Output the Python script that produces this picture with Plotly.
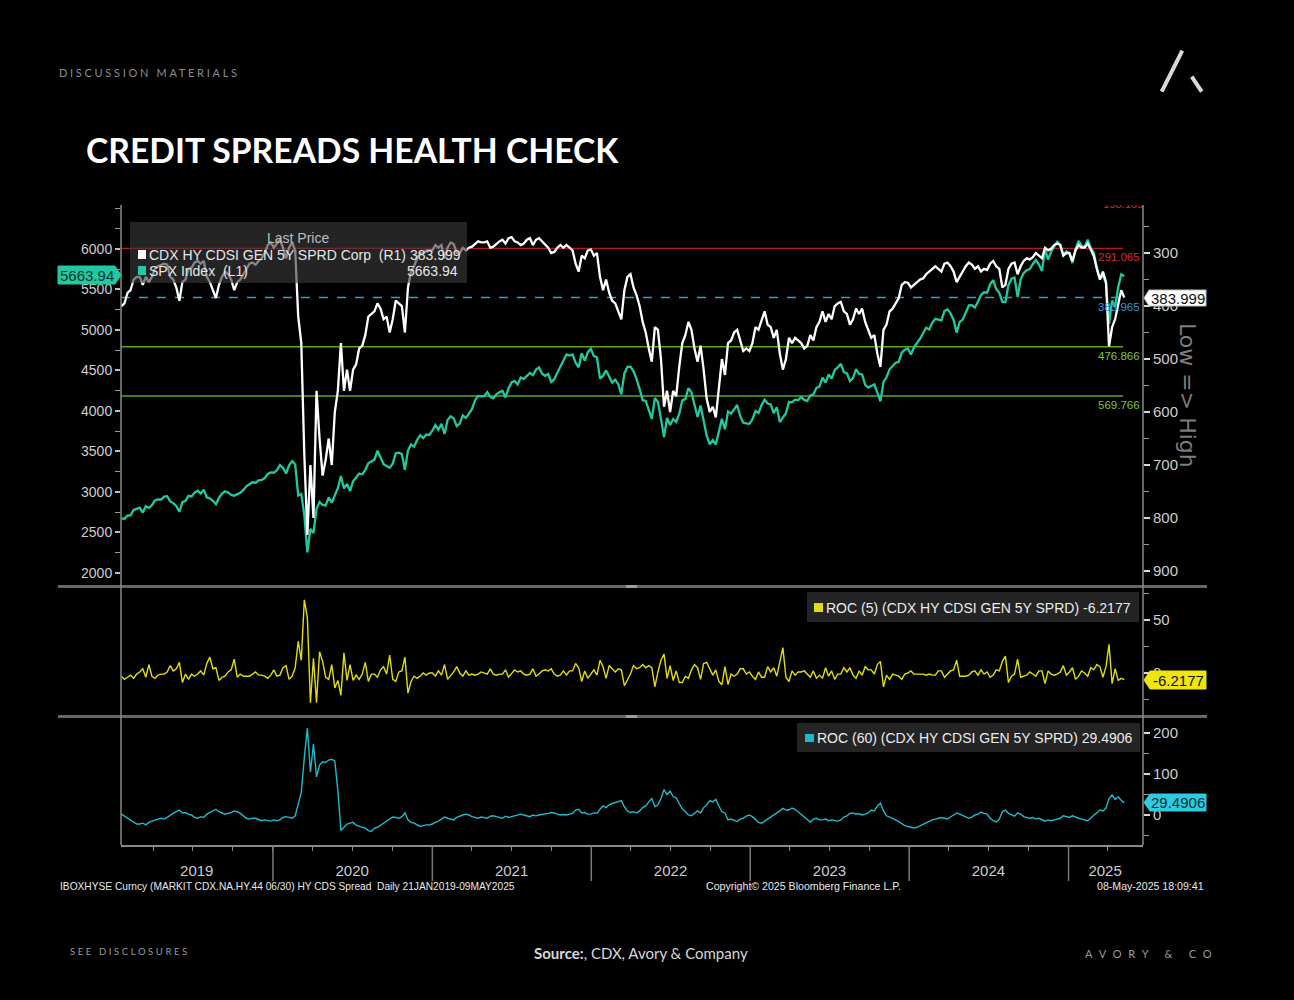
import pandas as pd
import plotly.graph_objects as go

W, H = 1294, 1000

# ---------------- data (weekly Friday readings) ----------------
week_start, week_end = "2019-01-18", "2025-05-09"

spx_2019 = [2671, 2665, 2707, 2708, 2776, 2793, 2804, 2743, 2822, 2801, 2834, 2893, 2907, 2905, 2940,
            2946, 2881, 2860, 2826, 2752, 2873, 2887, 2950, 2942, 2990, 3014, 2977, 3026, 2932, 2918,
            2889, 2847, 2926, 2979, 3007, 2992, 2962, 2952, 2970, 2986, 3023, 3067, 3093, 3120, 3110,
            3141, 3146, 3169, 3221, 3240]
spx_2020 = [3235, 3265, 3330, 3295, 3226, 3328, 3380, 3338, 2954, 2972, 2711, 2250, 2541, 2489, 2790,
            2875, 2837, 2831, 2930, 2864, 2955, 3044, 3194, 3041, 3097, 3009, 3130, 3185, 3225, 3216,
            3271, 3351, 3373, 3397, 3508, 3427, 3341, 3319, 3298, 3348, 3477, 3483, 3465, 3270, 3509,
            3585, 3558, 3638, 3699, 3663, 3709, 3703]
spx_2021 = [3756, 3825, 3768, 3841, 3714, 3887, 3934, 3907, 3811, 3842, 3943, 3913, 3975, 4020, 4129,
            4185, 4180, 4181, 4233, 4174, 4156, 4204, 4230, 4247, 4166, 4281, 4352, 4370, 4327, 4412,
            4395, 4437, 4468, 4442, 4509, 4535, 4459, 4433, 4455, 4357, 4391, 4471, 4545, 4605, 4697,
            4683, 4698, 4595, 4538, 4712, 4621, 4726, 4766]
spx_2022 = [4677, 4662, 4398, 4432, 4500, 4419, 4349, 4385, 4329, 4204, 4463, 4543, 4546, 4488, 4393,
            4272, 4132, 4123, 4024, 3901, 4158, 4109, 3901, 3675, 3912, 3825, 3899, 3863, 3962, 4130,
            4145, 4280, 4228, 4058, 3924, 4067, 3873, 3693, 3586, 3640, 3583, 3752, 3901, 3771, 3993,
            3965, 4026, 4072, 3934, 3852, 3845, 3840]
spx_2023 = [3895, 3999, 3973, 4071, 4136, 4090, 4079, 3970, 4046, 3862, 3917, 3971, 4109, 4105, 4138,
            4133, 4169, 4136, 4124, 4192, 4205, 4282, 4299, 4410, 4348, 4450, 4399, 4505, 4536, 4582,
            4478, 4464, 4370, 4406, 4516, 4457, 4450, 4320, 4288, 4308, 4328, 4224, 4117, 4358, 4415,
            4514, 4559, 4595, 4604, 4719, 4755, 4770]
spx_2024 = [4697, 4784, 4840, 4891, 4959, 5027, 5006, 5089, 5137, 5124, 5117, 5234, 5254, 5204, 5123,
            4967, 5100, 5128, 5223, 5303, 5305, 5278, 5347, 5432, 5465, 5460, 5567, 5615, 5505, 5459,
            5346, 5344, 5554, 5634, 5648, 5408, 5626, 5703, 5738, 5751, 5815, 5865, 5808, 5729, 5996,
            5870, 5969, 6032, 6090, 6051, 5931, 5971]
spx_2025 = [5942, 5827, 5997, 6101, 6041, 6026, 6115, 6013, 5955, 5770, 5639, 5668, 5581, 5074, 5363,
            5283, 5525, 5687, 5663.94]

cdx_2019 = [400, 395, 375, 370, 350, 345, 345, 360, 345, 355, 345, 330, 325, 322, 320, 322, 345, 350,
            365, 390, 355, 350, 330, 328, 318, 315, 320, 315, 345, 355, 370, 385, 360, 345, 335, 340,
            350, 370, 355, 350, 340, 330, 320, 318, 322, 315, 310, 300, 285, 280]
cdx_2020 = [290, 282, 275, 290, 310, 290, 280, 295, 420, 470, 680, 832, 700, 800, 560, 650, 720, 690,
            650, 700, 600, 560, 470, 560, 520, 560, 520, 510, 480, 475, 455, 420, 415, 410, 395, 405,
            425, 420, 450, 425, 390, 395, 400, 450, 365, 335, 325, 310, 300, 300, 295, 295]
cdx_2021 = [295, 285, 290, 285, 310, 290, 280, 283, 300, 300, 290, 295, 290, 288, 282, 278, 280, 280,
            278, 290, 288, 282, 278, 275, 282, 272, 270, 278, 280, 285, 282, 275, 272, 285, 275, 272,
            278, 285, 290, 300, 298, 290, 285, 290, 285, 290, 295, 320, 335, 305, 310, 295, 293]
cdx_2022 = [305, 300, 345, 370, 350, 375, 390, 395, 410, 425, 370, 345, 340, 365, 380, 400, 430, 450,
            480, 505, 440, 445, 500, 590, 560, 600, 560, 570, 515, 470, 455, 430, 445, 480, 505, 475,
            520, 575, 600, 590, 610, 560, 500, 530, 470, 465, 450, 445, 465, 485, 480, 485]
cdx_2023 = [470, 440, 445, 425, 410, 435, 440, 460, 445, 490, 520, 500, 460, 470, 460, 465, 470, 480,
            475, 455, 465, 440, 430, 410, 430, 415, 425, 400, 395, 392, 410, 415, 435, 425, 405, 415,
            405, 430, 445, 460, 455, 490, 515, 445, 435, 410, 405, 395, 385, 360, 355, 356]
cdx_2024 = [365, 360, 355, 350, 348, 340, 335, 330, 325, 330, 335, 320, 318, 325, 335, 355, 345, 335,
            325, 318, 322, 330, 325, 335, 330, 332, 320, 315, 325, 330, 365, 360, 330, 320, 318, 340,
            325, 315, 310, 312, 308, 300, 305, 310, 290, 295, 292, 285, 282, 285, 305, 300]
cdx_2025 = [300, 315, 295, 285, 290, 290, 282, 295, 305, 330, 350, 335, 355, 476, 440, 425, 395, 370,
            383.999]

roc5_2019 = [-3, -6, -4, -2, -5, -1, 1, 4, -4, 8, -3, -5, -2, -1, -1, 1, 7, 2, 4, 10, -9, -1, -6, -1,
             -3, -1, 2, -2, 9, 15, 4, 5, -7, -4, -3, 1, 3, 13, -4, -1, -3, -3, -3, -1, 1, -2, -2, -3,
             -5, -2]
roc5_2020 = [3, -3, -2, 5, 7, -6, -3, 5, 30, 12, 69, 52, -28, 14, -28, 20, 11, -4, -6, 8, -14, -7,
             -21, 19, -7, 8, -7, -2, -6, -1, 10, -8, -1, -1, -4, 3, 6, -1, 17, -6, -8, 1, 2, 15, -19,
             -8, -3, -5, -3, 0, -2, 0]
roc5_2021 = [0, -3, 2, -2, 8, -6, -3, 1, 6, 0, -3, 2, -2, -1, -2, -1, 1, 0, -1, 4, -1, -2, -1, -1, 3,
             -4, -1, 3, 1, 2, -1, -2, -1, 4, -3, -1, 2, 3, 2, 4, -1, -3, -2, 2, -2, 2, 2, 9, 5, -8, 2,
             -5, -1]
roc5_2022 = [3, -2, 12, 6, -5, 7, 4, 1, 4, 3, -12, -7, -1, 7, 4, 5, 8, 5, 7, 5, -13, 1, 12, 18, -5, 7,
             -7, 2, -9, -9, -3, -5, 3, 8, 5, -6, 9, 10, 4, -2, 3, -8, -11, 6, -11, -1, -3, -1, 4, 4,
             -1, 1]
roc5_2023 = [-3, -6, 1, -4, -4, 6, 1, 5, -3, 10, 24, -4, -8, 2, -2, 1, 1, 2, -1, -4, 2, -5, -2, -5, 5,
             -3, 2, -6, -1, -1, 5, 1, 5, -2, -5, 2, -2, 6, 3, 3, -1, 8, 11, -13, -2, -6, -1, -2, -3,
             -6, -1, 0]
roc5_2024 = [2, -1, -1, -1, -1, -2, -1, -2, -2, 2, 2, -4, -1, 2, 3, 12, -3, -3, -3, -2, 1, 2, -2, 3,
             -1, 1, -4, -2, 3, 2, 11, 16, -9, -3, -1, 13, -4, -3, -2, 1, -1, -3, 2, 2, -10, 2, -1, -2,
             -1, 1, 7, -2]
roc5_2025 = [1, 5, -6, -3, 2, 0, -3, 5, 3, 8, 6, -4, 6, 27, -10, 4, -7, -5, -6.2177]

roc60_2019 = [2, -3, -8, -12, -18, -22, -22, -20, -24, -18, -15, -12, -10, -8, -10, -6, 0, 4, 8, 12,
              5, 6, 2, 0, -6, -8, -4, -6, 2, 6, 10, 14, 8, 4, 2, 4, 6, 10, 8, 4, -2, -8, -10, -8, -8,
              -12, -14, -12, -14, -15]
roc60_2020 = [-12, -14, -12, -6, -4, -6, -8, -2, 30, 55, 140, 212, 105, 173, 93, 122, 130, 128, 134,
              136, 132, 60, -38, -30, -22, -20, -18, -25, -28, -30, -32, -38, -40, -32, -30, -25,
              -20, -15, -8, -5, -6, -8, -4, 5, -12, -18, -20, -24, -28, -26, -24, -24]
roc60_2021 = [-22, -18, -15, -10, -5, -8, -10, -12, -6, -2, 0, 2, 0, -4, -6, -8, -5, -6, -8, -3, -2,
              -4, -6, -8, -3, -6, -4, -2, -1, 2, 0, -2, -4, 0, -2, 0, 1, 2, 4, 6, 5, 2, 0, 1, 0, 2,
              4, 12, 14, 5, 6, 2, 2]
roc60_2022 = [5, 4, 14, 22, 18, 25, 28, 30, 32, 35, 20, 10, 6, 8, 5, 10, 18, 22, 32, 40, 20, 25, 40,
              62, 50, 58, 45, 42, 28, 15, 8, 0, -2, 4, 10, 5, 18, 25, 35, 32, 38, 22, 8, 5, -12, -10,
              -14, -16, -10, -8, -3, 0]
roc60_2023 = [-4, -12, -18, -20, -15, -12, -6, 0, 4, 10, 16, 12, 12, 17, 14, 8, 2, -4, -12, -17, -10,
              -8, -12, -12, -10, -14, -12, -14, -15, -12, -5, -2, 4, 5, 2, 3, 0, 2, 5, 12, 10, 22,
              29, 10, -2, -5, -8, -12, -16, -22, -26, -28]
roc60_2024 = [-30, -32, -30, -26, -22, -20, -15, -12, -10, -8, -6, -8, -10, -5, 0, 5, 2, -2, -5, -8,
              -5, 0, 2, 7, 4, 2, -8, -14, -17, -10, 8, 12, 4, 0, -3, 5, 2, -4, -6, -8, -6, -10, -8,
              -12, -15, -12, -14, -12, -10, -8, -2, -4]
roc60_2025 = [-6, -2, -6, -8, -10, -12, -14, -8, 0, 5, 12, 10, 17, 40, 49, 38, 44, 36, 29.4906]

spx = spx_2019 + spx_2020 + spx_2021 + spx_2022 + spx_2023 + spx_2024 + spx_2025
cdx = cdx_2019 + cdx_2020 + cdx_2021 + cdx_2022 + cdx_2023 + cdx_2024 + cdx_2025
roc5 = roc5_2019 + roc5_2020 + roc5_2021 + roc5_2022 + roc5_2023 + roc5_2024 + roc5_2025
roc60 = roc60_2019 + roc60_2020 + roc60_2021 + roc60_2022 + roc60_2023 + roc60_2024 + roc60_2025

spx_last_label = "5663.94"
cdx_last_label = "383.999"
roc5_last_label = "-6.2177"
roc60_last_label = "29.4906"

band_levels = [291.065, 383.965, 476.866, 569.766]
band_labels = ["291.065", "383.965", "476.866", "569.766"]
top_level_value = 210.5
top_level_label = "198.165"

spx_ticks = [2000, 2500, 3000, 3500, 4000, 4500, 5000, 5500, 6000]
cdx_ticks = [300, 400, 500, 600, 700, 800, 900]
roc5_ticks = [50, 0]
roc60_ticks = [200, 100, 0]
year_labels = ["2019", "2020", "2021", "2022", "2023", "2024", "2025"]
year_label_dates = ["2019-07-10", "2020-07-01", "2021-07-02", "2022-07-02", "2023-07-02",
                    "2024-07-01", "2025-03-26"]
year_starts = ["2020-01-01", "2021-01-01", "2022-01-01", "2023-01-01", "2024-01-01", "2025-01-01"]

# ---------------- figure ----------------
dates = pd.date_range(week_start, week_end, freq="W-FRI")
for s in (spx, cdx, roc5, roc60):
    assert len(s) == len(dates), (len(s), len(dates))

quarter_ticks = pd.date_range("2019-04-01", "2025-04-01", freq="QS").strftime("%Y-%m-%d").tolist()

X_RANGE = ["2019-01-17", "2025-06-21"]
BB = "Liberation Sans, Arial, sans-serif"
LATO = "Lato, Open Sans, sans-serif"
TEAL = "#1fc9a1"
YELLOW = "#e2dc0c"
CYAN = "#1fb9c9"
GRAY = "#8a8a8a"
LBL = "#cdcdcd"


def px(x):
    return x / W


def py(y):
    return 1 - y / H


XD = [px(121), px(1143)]

fig = go.Figure()
fig.add_trace(go.Scatter(x=dates, y=spx, xaxis="x", yaxis="y", mode="lines",
                         line=dict(color=TEAL, width=2.3), hoverinfo="skip"))
fig.add_trace(go.Scatter(x=dates, y=cdx, xaxis="x", yaxis="y2", mode="lines",
                         line=dict(color="#ffffff", width=2.3), hoverinfo="skip"))
fig.add_trace(go.Scatter(x=[X_RANGE[1]], y=[top_level_value], xaxis="x", yaxis="y2", mode="text",
                         text=[top_level_label], textposition="middle left", cliponaxis=True,
                         textfont=dict(family=BB, size=11, color="#d42a2a"), hoverinfo="skip"))
fig.add_trace(go.Scatter(x=dates, y=roc5, xaxis="x2", yaxis="y3", mode="lines",
                         line=dict(color=YELLOW, width=1.4), hoverinfo="skip"))
fig.add_trace(go.Scatter(x=dates, y=roc60, xaxis="x3", yaxis="y4", mode="lines",
                         line=dict(color=CYAN, width=1.4), hoverinfo="skip"))

tickfont_l = dict(family=BB, size=14, color=LBL)
tickfont_r = dict(family=BB, size=15, color=LBL)


def yax(**kw):
    base = dict(showgrid=False, zeroline=False, showline=False, ticks="outside", ticklen=6,
                tickwidth=2, tickcolor="#d8d8d8", fixedrange=True)
    base.update(kw)
    return base


shapes = []


def line(x0, y0, x1, y1, color, width, dash=None, layer="above", xref="paper", yref="paper"):
    d = dict(type="line", x0=x0, y0=y0, x1=x1, y1=y1, xref=xref, yref=yref, layer=layer,
             line=dict(color=color, width=width))
    if dash:
        d["line"]["dash"] = dash
    shapes.append(d)


def rect(x0, y0, x1, y1, fill, layer="above"):
    shapes.append(dict(type="rect", x0=px(x0), y0=py(y1), x1=px(x1), y1=py(y0), xref="paper",
                       yref="paper", fillcolor=fill, line=dict(width=0), layer=layer))


def poly(points, fill, border=None):
    path = "M " + " L ".join(f"{px(x):.5f},{py(y):.5f}" for x, y in points) + " Z"
    shapes.append(dict(type="path", path=path, xref="paper", yref="paper", fillcolor=fill,
                       line=dict(color=border or fill, width=1), layer="above"))


# band lines (right axis values)
band_colors = ["#b81818", "#2a9ed8", "#5aa81e", "#5aa81e"]
band_text_colors = ["#d42a2a", "#2b9cd8", "#7cc63a", "#7cc63a"]
for lv, col in zip(band_levels, band_colors):
    line(px(121), lv, px(1123), lv, col, 1.3 if col != "#2a9ed8" else 1.5,
         dash="dash" if col == "#2a9ed8" else None, layer="below", yref="y2")

# panel separators and frame
for yy in (586.5, 716.5):
    line(px(58), py(yy), px(1207), py(yy), "#676767", 3)
    line(px(626), py(yy), px(637), py(yy), "#9d9d9d", 3)
line(px(121), py(205), px(121), py(845), GRAY, 1.5)
line(px(1143), py(205), px(1143), py(845), GRAY, 1.5)
for ys in year_starts:
    line(ys, py(846), ys, py(881), "#7a7a7a", 1.5, xref="x3")

# legend boxes
rect(130, 222, 467, 283, "rgba(58,58,58,0.62)")
rect(138, 250, 146, 259, "#ffffff")
rect(138, 266, 146, 275, TEAL)
rect(807, 592, 1139, 622, "rgba(58,58,58,0.62)")
rect(814, 603, 823, 612, YELLOW)
rect(797, 723, 1140, 752, "rgba(58,58,58,0.62)")
rect(805, 734, 814, 742, CYAN)

# last-value tags
poly([(1144, 298), (1149, 290), (1206, 290), (1206, 306), (1149, 306)], "#ffffff", "#bbbbbb")
poly([(121, 275), (115, 266), (58, 266), (58, 284), (115, 284)], TEAL)
poly([(1144, 680), (1150, 671), (1206, 671), (1206, 689), (1150, 689)], "#efe60f")
poly([(1144, 802.5), (1150, 794), (1206, 794), (1206, 811), (1150, 811)], "#2ccbe0")

# logo
line(px(1161.7), py(91.7), px(1182.3), py(50.7), "#d9d9d9", 4)
line(px(1191.7), py(76.7), px(1201.7), py(91.7), "#d9d9d9", 4)

annotations = []


def ann(text, x, y, size, color, family=BB, xanchor="left", yanchor="middle", **kw):
    annotations.append(dict(text=text, x=px(x), y=py(y), xref="paper", yref="paper",
                            showarrow=False, xanchor=xanchor, yanchor=yanchor,
                            font=dict(family=family, size=size, color=color), **kw))


ann('<span style="letter-spacing:2.7px">DISCUSSION MATERIALS</span>', 57, 73, 11, "#8c8c8c", LATO)
ann("<b>CREDIT SPREADS HEALTH CHECK</b>", 84, 150, 33.7, "#ffffff", LATO)
ann('<span style="letter-spacing:2.6px">SEE DISCLOSURES</span>', 68, 951, 9.5, "#9a9a9a", LATO)
ann('<b>Source:</b>, CDX, Avory & Company', 641, 953, 15, "#d8d8d8", LATO, xanchor="center")
ann('<span style="letter-spacing:6.8px">AVORY & CO</span>', 1083, 953, 11, "#9a9a9a", LATO)

ann("Last Price", 298, 238, 14, "#bdbdbd", xanchor="center")
ann("CDX HY CDSI GEN 5Y SPRD Corp  (R1) 383.999", 147, 255, 14, "#e6e6e6")
ann("SPX Index  (L1)", 147, 271, 14, "#e6e6e6")
ann(spx_last_label, 460, 271, 14, "#e6e6e6", xanchor="right")
ann("ROC (5) (CDX HY CDSI GEN 5Y SPRD) " + roc5_last_label, 824, 608, 14, "#ececec")
ann("ROC (60) (CDX HY CDSI GEN 5Y SPRD) " + roc60_last_label, 815, 738, 14, "#ececec")

ann(cdx_last_label, 1177.5, 298, 15, "#111111", xanchor="center")
ann(spx_last_label, 86.5, 275.5, 15, "#06352b", xanchor="center")
ann(roc5_last_label, 1178, 680, 15, "#111111", xanchor="center")
ann(roc60_last_label, 1178, 802.5, 15, "#0b2f35", xanchor="center")

for lv, lab, col in zip(band_levels, band_labels, band_text_colors):
    annotations.append(dict(text=lab, x=px(1142), y=lv, xref="paper", yref="y2", showarrow=False,
                            xanchor="right", yanchor="top", yshift=-1,
                            font=dict(family=BB, size=11.5, color=col)))

annotations.append(dict(text="Low => High", x=px(1188), y=py(395), xref="paper", yref="paper",
                        showarrow=False, textangle=90, xanchor="center", yanchor="middle",
                        font=dict(family="DejaVu Sans, sans-serif", size=22, color="#7d7d7d")))

ann("IBOXHYSE Curncy (MARKIT CDX.NA.HY.44 06/30) HY CDS Spread  Daily 21JAN2019-09MAY2025",
    58, 886, 10.2, "#e8e8e8")
ann("Copyright\u00a9 2025 Bloomberg Finance L.P.", 704, 886, 10.6, "#e8e8e8")
ann("08-May-2025 18:09:41", 1206, 886, 10.6, "#e8e8e8", xanchor="right")

fig.update_layout(
    width=W, height=H, margin=dict(l=0, r=0, t=0, b=0),
    paper_bgcolor="#000000", plot_bgcolor="#000000", showlegend=False,
    xaxis=dict(domain=XD, range=X_RANGE, anchor="y", showticklabels=False, showgrid=False,
               zeroline=False, showline=False, ticks=""),
    xaxis2=dict(domain=XD, range=X_RANGE, anchor="y3", matches="x", showticklabels=False,
                showgrid=False, zeroline=False, showline=False, ticks=""),
    xaxis3=dict(domain=XD, range=X_RANGE, anchor="y4", matches="x", showgrid=False, zeroline=False,
                showline=True, linecolor=GRAY, linewidth=1.5, tickvals=year_label_dates,
                ticktext=year_labels, ticks="", ticklabelstandoff=11,
                tickfont=dict(family=BB, size=15, color=LBL),
                minor=dict(tickvals=quarter_ticks, ticks="outside", ticklen=4, tickwidth=1.2,
                           tickcolor=GRAY, showgrid=False)),
    yaxis=yax(domain=[py(585), py(205)], range=[1848, 6544], side="left", anchor="x",
              tickvals=spx_ticks, tickfont=tickfont_l, ticklen=5, tickwidth=1.5, tickcolor="#bdbdbd",
              minor=dict(tickmode="linear", tick0=0, dtick=250, ticks="outside", ticklen=5,
                         tickwidth=1.2, tickcolor="#9a9a9a")),
    yaxis2=yax(overlaying="y", anchor="x", side="right", range=[926.4, 209.4],
               tickvals=cdx_ticks, tickfont=tickfont_r,
               minor=dict(tickmode="linear", tick0=0, dtick=50, ticks="outside", ticklen=5,
                          tickwidth=1.2, tickcolor="#9a9a9a")),
    yaxis3=yax(domain=[py(715), py(588)], anchor="x2", side="right", range=[-39.6, 80.2],
               tickvals=roc5_ticks, tickfont=tickfont_r,
               minor=dict(tickmode="linear", tick0=0, dtick=25, ticks="outside", ticklen=5,
                          tickwidth=1.2, tickcolor="#9a9a9a")),
    yaxis4=yax(domain=[py(845), py(718)], anchor="x3", side="right", range=[-73.2, 236.6],
               tickvals=roc60_ticks, tickfont=tickfont_r,
               minor=dict(tickmode="linear", tick0=0, dtick=50, ticks="outside", ticklen=5,
                          tickwidth=1.2, tickcolor="#9a9a9a")),
    shapes=shapes,
    annotations=annotations,
)

fig.write_html("out.html")
